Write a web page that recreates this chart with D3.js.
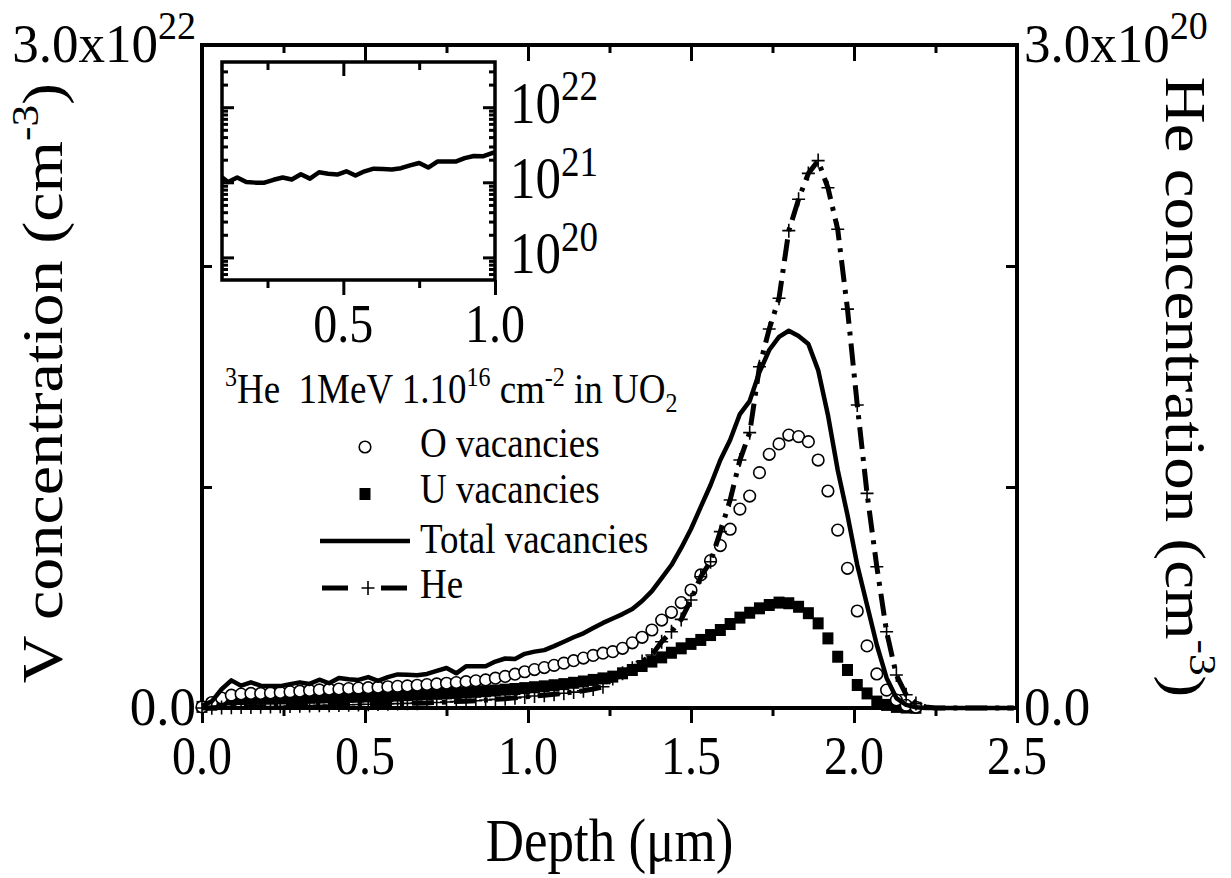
<!DOCTYPE html>
<html>
<head>
<meta charset="utf-8">
<script src="https://cdn.jsdelivr.net/npm/d3@7"></script>
<style>
  body { margin: 0; background: #fff; }
  svg { display: block; }
  text { font-family: "Liberation Serif", "Times New Roman", serif; fill: #000; }
</style>
</head>
<body>
<script>
// depth bins (um)
const depth = [0.00, 0.03, 0.06, 0.09, 0.12, 0.15, 0.18, 0.21, 0.24, 0.27,
  0.30, 0.33, 0.36, 0.39, 0.42, 0.45, 0.48, 0.51, 0.54, 0.57,
  0.60, 0.63, 0.66, 0.69, 0.72, 0.75, 0.78, 0.81, 0.84, 0.87,
  0.90, 0.93, 0.96, 0.99, 1.02, 1.05, 1.08, 1.11, 1.14, 1.17,
  1.20, 1.23, 1.26, 1.29, 1.32, 1.35, 1.38, 1.41, 1.44, 1.47,
  1.50, 1.53, 1.56, 1.59, 1.62, 1.65, 1.68, 1.71, 1.74, 1.77,
  1.80, 1.83, 1.86, 1.89, 1.92, 1.95, 1.98, 2.01, 2.04, 2.07,
  2.10, 2.13, 2.16, 2.19, 2.22, 2.25, 2.28, 2.31, 2.34, 2.37,
  2.40, 2.43, 2.46, 2.49];

// vacancies, in 1e21 cm^-3 (symbol series stop where SRIM output ends)
const oVac = [0.05, 0.25, 0.45, 0.58, 0.63, 0.66, 0.66, 0.68, 0.70, 0.73,
  0.76, 0.79, 0.82, 0.85, 0.86, 0.88, 0.90, 0.92, 0.94, 0.96,
  0.98, 1.00, 1.03, 1.06, 1.09, 1.12, 1.15, 1.19, 1.23, 1.27,
  1.35, 1.43, 1.53, 1.64, 1.74, 1.83, 1.93, 2.03, 2.14, 2.26,
  2.38, 2.48, 2.55, 2.70, 2.95, 3.20, 3.53, 3.98, 4.33, 4.77,
  5.34, 6.02, 6.67, 7.35, 8.09, 9.00, 9.59, 10.65, 11.48, 11.95,
  12.35, 12.28, 12.05, 11.22, 9.82, 8.05, 6.32, 4.39, 2.81, 1.54,
  0.81, 0.36, 0.12, 0.03];

const uVac = [0.05, 0.15, 0.30, 0.38, 0.40, 0.41, 0.42, 0.42, 0.43, 0.44,
  0.45, 0.46, 0.47, 0.48, 0.49, 0.50, 0.51, 0.52, 0.53, 0.54,
  0.56, 0.58, 0.60, 0.62, 0.64, 0.66, 0.68, 0.70, 0.73, 0.76,
  0.79, 0.83, 0.86, 0.90, 0.94, 0.98, 1.03, 1.08, 1.14, 1.20,
  1.27, 1.34, 1.42, 1.57, 1.72, 1.90, 2.10, 2.29, 2.50, 2.70,
  2.90, 3.08, 3.30, 3.53, 3.80, 4.09, 4.31, 4.51, 4.66, 4.77,
  4.74, 4.58, 4.29, 3.83, 3.15, 2.32, 1.72, 1.04, 0.66, 0.29,
  0.14, 0.05, 0.02, 0.01];

const totalVac = [0.10, 0.30, 0.85, 1.25, 1.01, 1.16, 1.01, 0.99, 0.99, 1.08,
  1.16, 1.09, 1.28, 1.12, 1.36, 1.30, 1.27, 1.40, 1.23, 1.40,
  1.52, 1.50, 1.48, 1.54, 1.68, 1.81, 1.57, 1.89, 1.89, 1.89,
  2.10, 2.24, 2.22, 2.45, 2.55, 2.62, 2.80, 3.00, 3.20, 3.38,
  3.62, 3.85, 4.05, 4.25, 4.48, 4.84, 5.29, 5.88, 6.47, 7.24,
  8.10, 9.10, 10.09, 11.22, 12.13, 13.30, 13.89, 15.20, 16.20, 16.79,
  17.07, 16.83, 16.47, 15.29, 13.26, 10.77, 8.73, 6.47, 4.66, 2.85,
  1.36, 0.45, 0.14, 0.03, 0, 0, 0, 0, 0, 0,
  0, 0, 0, 0];

// He concentration, in 1e19 cm^-3
const he = [0, 0.01, 0.02, 0.03, 0.04, 0.05, 0.06, 0.07, 0.08, 0.09,
  0.10, 0.11, 0.12, 0.13, 0.14, 0.15, 0.16, 0.17, 0.18, 0.19,
  0.20, 0.21, 0.22, 0.23, 0.25, 0.27, 0.29, 0.31, 0.33, 0.36,
  0.39, 0.42, 0.46, 0.50, 0.54, 0.58, 0.62, 0.67, 0.72, 0.78,
  0.86, 0.96, 1.34, 1.57, 1.80, 2.10, 2.40, 3.00, 3.45, 4.01,
  4.89, 5.94, 6.62, 7.98, 9.41, 11.22, 12.46, 15.44, 17.15, 18.54,
  21.60, 23.02, 24.19, 24.77, 23.54, 21.66, 18.05, 13.71, 9.71, 6.39,
  3.45, 1.49, 0.60, 0.20, 0.05, 0, 0, 0, 0, 0,
  0, 0, 0, 0];

const xMajor = [0, 0.5, 1.0, 1.5, 2.0, 2.5];
const xMinor = [0.25, 0.75, 1.25, 1.75, 2.25];
const insetMajor = [0.5, 1.0];
const insetMinor = [0.25, 0.75];
const insetDecades = [1e20, 1e21, 1e22];

const V = 1e21, HE = 1e19;
const oRows = oVac.map((v, i) => ({ d: depth[i], v: v * V }));
const uRows = uVac.map((v, i) => ({ d: depth[i], v: v * V }));
const tRows = totalVac.map((v, i) => ({ d: depth[i], v: v * V }));
const hRows = he.map((v, i) => ({ d: depth[i], v: v * HE }));
const hMarks = hRows.filter(d => d.d <= 2.2);

const S = 1.14; // glyphs in the original are drawn a bit tall
const svg = d3.select("body").append("svg").attr("width", 1231).attr("height", 878);

const x = d3.scaleLinear().domain([0, 2.5]).range([202, 1017]);
const yV = d3.scaleLinear().domain([0, 3e22]).range([708, 45]);
const yHe = d3.scaleLinear().domain([0, 3e20]).range([708, 45]);

function ticks(g) {
  g.select(".domain").remove();
  g.selectAll("line").attr("stroke", "#000").attr("stroke-width", 3);
}

// text helpers: optional vertical stretch, superscript parts
function label(xp, yp, size, anchor, parts, rot, sc) {
  const k = sc || S;
  const tr = rot ? `translate(${xp},${yp}) rotate(${rot}) scale(${k},1)` : `translate(${xp},${yp}) scale(1,${k})`;
  const t = svg.append("text").attr("transform", tr).attr("text-anchor", anchor).attr("font-size", size);
  let cur = 0;
  parts.forEach(p => {
    const s = typeof p === "string" ? { t: p, o: 0 } : p;
    const ts = t.append("tspan").attr("dy", s.o - cur).text(s.t);
    if (s.o !== 0) ts.attr("font-size", s.f || size * 0.7);
    cur = s.o;
  });
  return t;
}

// main axes
svg.append("g").attr("transform", `translate(0,${yV(0)})`)
  .call(d3.axisBottom(x).tickValues(xMajor).tickSize(15).tickFormat("")).call(ticks);
svg.append("g").attr("transform", `translate(0,${yV(0)})`)
  .call(d3.axisBottom(x).tickValues(xMinor).tickSize(8).tickFormat("")).call(ticks);
svg.append("g").attr("transform", `translate(0,${yV(3e22)})`)
  .call(d3.axisTop(x).tickValues(xMajor).tickSize(-16).tickFormat("")).call(ticks);
svg.append("g").attr("transform", `translate(0,${yV(3e22)})`)
  .call(d3.axisTop(x).tickValues(xMinor).tickSize(-8).tickFormat("")).call(ticks);
svg.append("g").attr("transform", `translate(${x(0)},0)`)
  .call(d3.axisLeft(yV).tickValues([1e22, 2e22]).tickSize(-10).tickFormat("")).call(ticks);
svg.append("g").attr("transform", `translate(${x(2.5)},0)`)
  .call(d3.axisRight(yHe).tickValues([1e20, 2e20]).tickSize(-11).tickFormat("")).call(ticks);

svg.append("rect")
  .attr("x", x(0)).attr("y", yV(3e22))
  .attr("width", x(2.5) - x(0)).attr("height", yV(0) - yV(3e22))
  .attr("fill", "none").attr("stroke", "#000").attr("stroke-width", 4);

xMajor.forEach(v => label(x(v), yV(0) + 66, 48, "middle", [d3.format(".1f")(v)]));

// y tick labels
label(196, yV(3e22) + 17, 53, "end", ["3.0x10", { t: "22", o: -22, f: 38 }], 0, 1.04);
label(196, yV(0) + 17, 53, "end", ["0.0"], 0, 1.04);
label(1024, yHe(3e20) + 17, 53, "start", ["3.0x10", { t: "20", o: -22, f: 38 }], 0, 1.04);
label(1024, yHe(0) + 17, 53, "start", ["0.0"], 0, 1.04);

// axis titles
label(x(1.25), 861, 53, "middle", ["Depth (\u03bcm)"]);
label(62, 383, 58, "middle", ["V concentration (cm", { t: "-3", o: -24, f: 38 }, ")"], -90);
label(1166, 387, 57, "middle", ["He concentration (cm", { t: "-3", o: -24, f: 38 }, ")"], 90);

// data
svg.append("g").selectAll("rect").data(uRows).join("rect")
  .attr("x", d => x(d.d) - 5.5).attr("y", d => yV(d.v) - 6)
  .attr("width", 11).attr("height", 12).attr("fill", "#000");

svg.append("g").selectAll("circle").data(oRows).join("circle")
  .attr("cx", d => x(d.d)).attr("cy", d => yV(d.v)).attr("r", 5.8)
  .attr("fill", "#fff").attr("stroke", "#000").attr("stroke-width", 1.6);

svg.append("path").datum(tRows)
  .attr("d", d3.line().x(d => x(d.d)).y(d => yV(d.v)))
  .attr("fill", "none").attr("stroke", "#000").attr("stroke-width", 4.5).attr("stroke-linejoin", "round");

svg.append("path").datum(hRows)
  .attr("d", d3.line().x(d => x(d.d)).y(d => yHe(d.v)))
  .attr("fill", "none").attr("stroke", "#000").attr("stroke-width", 5)
  .attr("stroke-dasharray", "22,8,4,8");

const plus = "M-6.5,0H6.5M0,-7V7";
svg.append("g").selectAll("path").data(hMarks).join("path")
  .attr("transform", d => `translate(${x(d.d)},${yHe(d.v)})`)
  .attr("d", plus).attr("fill", "none").attr("stroke", "#000").attr("stroke-width", 1.6);

// inset
const xi = d3.scaleLinear().domain([0.1, 1.0]).range([222, 495]);
const yi = d3.scaleLog().domain([5e19, 4e22]).range([280, 62]);
const minorLog = [];
[1e19, 1e20, 1e21, 1e22].forEach(b => { for (let m = 2; m <= 9; m++) { const v = m * b; if (v > 5e19 && v < 4e22) minorLog.push(v); } });

const inset = svg.append("g");
inset.append("defs").append("clipPath").attr("id", "ic").append("rect")
  .attr("x", 222).attr("y", 62).attr("width", 273).attr("height", 218);

inset.append("g").attr("transform", `translate(0,${yi(5e19)})`)
  .call(d3.axisBottom(xi).tickValues(insetMajor).tickSize(15).tickFormat("")).call(ticks);
inset.append("g").attr("transform", `translate(0,${yi(5e19)})`)
  .call(d3.axisBottom(xi).tickValues(insetMinor).tickSize(8).tickFormat("")).call(ticks);
inset.append("g").attr("transform", `translate(0,${yi(4e22)})`)
  .call(d3.axisTop(xi).tickValues([0.5]).tickSize(-14).tickFormat("")).call(ticks);
inset.append("g").attr("transform", `translate(0,${yi(4e22)})`)
  .call(d3.axisTop(xi).tickValues(insetMinor).tickSize(-8).tickFormat("")).call(ticks);
inset.append("g").attr("transform", `translate(${xi(0.1)},0)`)
  .call(d3.axisLeft(yi).tickValues(insetDecades).tickSize(-12).tickFormat("")).call(ticks);
inset.append("g").attr("transform", `translate(${xi(0.1)},0)`)
  .call(d3.axisLeft(yi).tickValues(minorLog).tickSize(-6).tickFormat("")).call(ticks);
inset.append("g").attr("transform", `translate(${xi(1.0)},0)`)
  .call(d3.axisRight(yi).tickValues(insetDecades).tickSize(-12).tickFormat("")).call(ticks);
inset.append("g").attr("transform", `translate(${xi(1.0)},0)`)
  .call(d3.axisRight(yi).tickValues(minorLog).tickSize(-6).tickFormat("")).call(ticks);

inset.append("rect").attr("x", 222).attr("y", 62).attr("width", 273).attr("height", 218)
  .attr("fill", "none").attr("stroke", "#000").attr("stroke-width", 3.5);

insetMajor.forEach(v => label(xi(v), yi(5e19) + 62, 48, "middle", [d3.format(".1f")(v)]));
insetDecades.forEach(v => {
  label(510, yi(v) + 16, 51, "start", ["10", { t: String(Math.round(Math.log10(v))), o: -20, f: 37 }]);
});

inset.append("path").datum(tRows.filter(d => d.d >= 0.06 && d.d <= 1.05))
  .attr("clip-path", "url(#ic)")
  .attr("d", d3.line().x(d => xi(d.d)).y(d => yi(d.v)))
  .attr("fill", "none").attr("stroke", "#000").attr("stroke-width", 4.5).attr("stroke-linejoin", "round");

// annotation
label(225, 403, 37, "start", [{ t: "3", o: -15, f: 24 }, "He\u00a0\u00a01MeV 1.10", { t: "16", o: -15, f: 24 },
  " cm", { t: "-2", o: -15, f: 24 }, " in UO", { t: "2", o: 8, f: 24 }]);

// legend
const lg = svg.append("g");
lg.append("circle").attr("cx", 365).attr("cy", 447).attr("r", 5.8)
  .attr("fill", "#fff").attr("stroke", "#000").attr("stroke-width", 1.6);
lg.append("rect").attr("x", 359.5).attr("y", 488).attr("width", 11).attr("height", 12).attr("fill", "#000");
lg.append("line").attr("x1", 320).attr("x2", 410).attr("y1", 541).attr("y2", 541)
  .attr("stroke", "#000").attr("stroke-width", 4.5);
lg.append("line").attr("x1", 322).attr("x2", 348).attr("y1", 588).attr("y2", 588)
  .attr("stroke", "#000").attr("stroke-width", 5);
lg.append("line").attr("x1", 381).attr("x2", 407).attr("y1", 588).attr("y2", 588)
  .attr("stroke", "#000").attr("stroke-width", 5);
lg.append("path").attr("transform", "translate(368,588)").attr("d", plus)
  .attr("stroke", "#000").attr("stroke-width", 1.6);
[["O vacancies", 457], ["U vacancies", 503], ["Total vacancies", 553], ["He", 598]].forEach(([t, yy]) => {
  label(420, yy, 37, "start", [t]);
});
</script>
</body>
</html>
